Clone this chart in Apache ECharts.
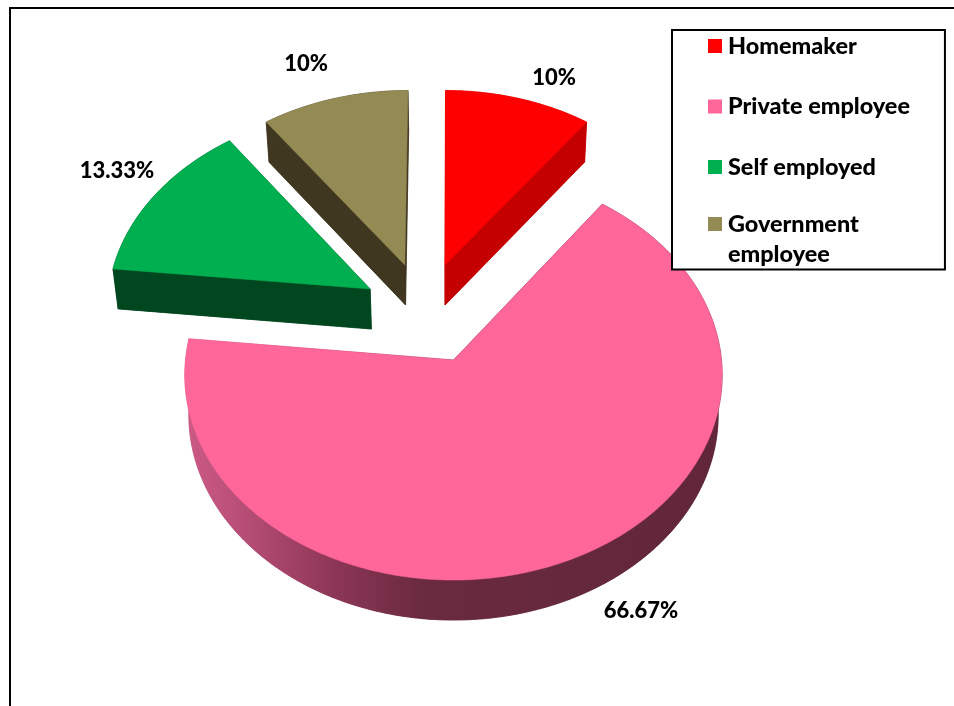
<!DOCTYPE html>
<html>
<head>
<meta charset="utf-8">
<style>html,body{margin:0;padding:0;background:#fff}#c{width:954px;height:706px}</style>
<script src="https://cdn.jsdelivr.net/npm/echarts@6/dist/echarts.min.js"></script>
</head>
<body>
<div id="c"></div>
<script>
const categories = ['Homemaker', 'Private employee', 'Self employed', 'Government employee'];
const values = [10, 66.67, 13.33, 10];
const valueLabels = ['10%', '66.67%', '13.33%', '10%'];

const topColors = ['#ff0000', '#ff6699', '#00b050', '#948a54'];
const sideColors = ['#c40000', null, '#00461f', '#403720'];
// explode offset in the pie plane (in radii), slice radius, screen position of labels
const explode = [[-0.033, 0.482], [0, 0], [-0.319, 0.357], [-0.188, 0.482]];
const radius = [0.98, 1, 1, 0.98];
const labelAt = [[554, 78], [641, 611], [117, 171], [306, 64]];
const drawOrder = [3, 0, 2, 1];

const view = { cx: 453.5, cy: 360, A: 268, B: 204, k: 0.073, depth: 40, shrink: 0.985 };
const total = values.reduce((a, b) => a + b, 0);
const FONT = 'Lato, "Open Sans", sans-serif';

function project(u, v) {
  const w = 1 + view.k * v;
  return [view.cx + view.A * u / w, view.cy - view.B * v / w];
}
function lower(p) {
  return [view.cx + (p[0] - view.cx) * view.shrink, p[1] + view.depth];
}

function makeRender(idx) {
  return function (params, api) {
    const val = api.value(0);
    let before = 0;
    for (let i = 0; i < idx; i++) before += values[i];
    const a0 = before / total * 2 * Math.PI;
    const a1 = a0 + val / total * 2 * Math.PI;
    const off = explode[idx];
    const r = radius[idx];
    const apex = project(off[0], off[1]);
    const rim = [];
    const n = Math.max(8, Math.round((a1 - a0) * 90));
    for (let i = 0; i <= n; i++) {
      const a = a0 + (a1 - a0) * i / n;
      rim.push(project(off[0] + r * Math.sin(a), off[1] + r * Math.cos(a)));
    }
    const rimLow = rim.map(lower);
    const apexLow = lower(apex);
    const side = sideColors[idx] || new echarts.graphic.LinearGradient(185, 0, 722, 0, [
      { offset: 0, color: '#cc5a85' },
      { offset: 0.1, color: '#b94f78' },
      { offset: 0.28, color: '#8c3655' },
      { offset: 0.44, color: '#6a2a40' },
      { offset: 1, color: '#61263a' }
    ], true);
    const poly = (pts, fill) => ({
      type: 'polygon', shape: { points: pts },
      style: { fill: fill, stroke: fill, lineWidth: 0.5 }
    });
    const children = [
      poly([apexLow].concat(rimLow), side),
      poly([apex, rim[0], rimLow[0], apexLow], side),
      poly([apex, rim[n], rimLow[n], apexLow], side),
      poly(rim.concat(rimLow.slice().reverse()), side),
      poly([apex].concat(rim), topColors[idx]),
      {
        type: 'text', z2: 10,
        style: {
          x: labelAt[idx][0], y: labelAt[idx][1], text: valueLabels[idx],
          fill: '#000', font: '900 22px ' + FONT, align: 'center', verticalAlign: 'middle'
        }
      }
    ];
    return { type: 'group', children: children };
  };
}

const rich = { sp: { width: 6, lineHeight: 30 }, ind: { width: 20, lineHeight: 30 },
  t: { fontFamily: FONT, fontWeight: 900, fontSize: 23.4, lineHeight: 30, color: '#000' } };
categories.forEach((c, i) => {
  rich['k' + i] = { width: 14, height: 14, backgroundColor: topColors[i], lineHeight: 30 };
});

const chart = echarts.init(document.getElementById('c'), null, { renderer: 'canvas' });
chart.setOption({
  animation: false,
  backgroundColor: '#fff',
  legend: {
    left: 672, top: 30, orient: 'vertical',
    data: categories.map(name => ({ name: name, icon: 'none' })),
    itemWidth: 0, itemHeight: 30, itemGap: 34,
    padding: [1, 35, 4, 31],
    backgroundColor: '#fff', borderColor: '#000', borderWidth: 2, borderRadius: 0,
    selectedMode: false, z: 20,
    textStyle: { rich: rich, fontFamily: FONT, fontWeight: 900, fontSize: 23.4, color: '#000', padding: 0 },
    formatter: function (name) {
      const i = categories.indexOf(name);
      const parts = name.split(' ');
      if (i === 3) return '{k3|}{sp|}{t|' + parts[0] + '}\n{ind|}{t|' + parts[1] + '}';
      return '{k' + i + '|}{sp|}{t|' + name + '}';
    }
  },
  graphic: [{
    type: 'polyline', z: 30, silent: true,
    shape: { points: [[10, 706], [10, 8], [954, 8]] },
    style: { stroke: '#000', lineWidth: 2, fill: null }
  }],
  series: drawOrder.map(i => ({
    type: 'custom', name: categories[i], coordinateSystem: 'none',
    data: [[values[i]]], itemStyle: { color: topColors[i] },
    renderItem: makeRender(i), silent: true
  }))
});
</script>
</body>
</html>
